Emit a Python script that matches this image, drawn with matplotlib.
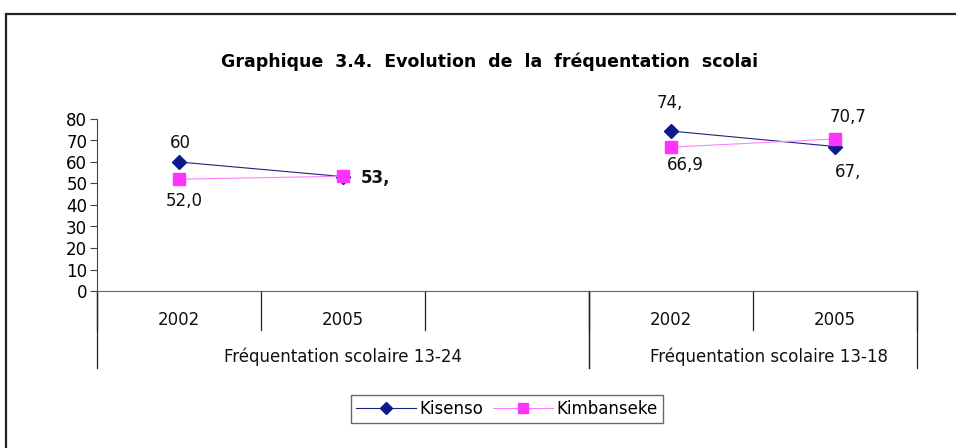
import numpy as np
import matplotlib

matplotlib.use("Agg")
import matplotlib.pyplot as plt
from matplotlib.lines import Line2D
from matplotlib.patches import Rectangle

plt.rcParams["font.family"] = ["DejaVu Sans"]

# data
years = ["2002", "2005", "", "2002", "2005"]
groups = ["Fréquentation scolaire 13-24", "Fréquentation scolaire 13-18"]
group_slots = [(0, 3), (3, 5)]  # slot ranges covered by each group
kisenso = [60.0, 53.2, np.nan, 74.4, 67.2]
kimbanseke = [52.0, 53.4, np.nan, 66.9, 70.7]
kisenso_labels = ["60", "", "", "74,", "67,"]
kimbanseke_labels = ["52,0", "53,", "", "66,9", "70,7"]
title = "Graphique  3.4.  Evolution  de  la  fréquentation  scolai"

# label offsets (points) per slot
kis_off = {0: (1, 14), 3: (-0.5, 20), 4: (9.5, -18)}
kim_off = {0: (4, -16), 1: (13, -1), 3: (10, -12.5), 4: (9.5, 16)}

fig = plt.figure(figsize=(9.56, 4.48), dpi=100)
fig.patches.append(Rectangle((6 / 956, -0.1), 1.2, (448 - 14) / 448 + 0.1,
                             transform=fig.transFigure, fill=False,
                             edgecolor="#222222", linewidth=1.6))

ax = fig.add_axes([97 / 956, 157 / 448, 820 / 956, 172 / 448])
x = np.arange(len(years))

ax.plot(x, kisenso, color="#1a237e", linewidth=0.8, marker="D", markersize=7,
        markerfacecolor="#0d1a8c", markeredgecolor="#0d1a8c", zorder=3)
ax.plot(x, kimbanseke, color="#ff80ff", linewidth=0.8, marker="s", markersize=8,
        markerfacecolor="#ff33ff", markeredgecolor="#ff33ff", zorder=3)

for i, (v, lab) in enumerate(zip(kisenso, kisenso_labels)):
    if lab:
        ax.annotate(lab, (x[i], v), xytext=kis_off[i], textcoords="offset points",
                    ha="center", va="center", fontsize=12, color="#111111")
for i, (v, lab) in enumerate(zip(kimbanseke, kimbanseke_labels)):
    if not lab:
        continue
    if i == 1:
        # two overlapping labels in the reference, so it reads bolder
        ax.annotate(lab, (x[i], v), xytext=kim_off[i], textcoords="offset points",
                    ha="left", va="center", fontsize=12, color="#111111",
                    fontweight="bold")
    else:
        ax.annotate(lab, (x[i], v), xytext=kim_off[i], textcoords="offset points",
                    ha="center", va="center", fontsize=12, color="#111111")

ax.set_xlim(-0.5, len(years) - 0.5)
ax.set_ylim(0, 80)
ax.set_yticks(range(0, 81, 10))
ax.tick_params(axis="y", labelsize=12, length=5, color="#444444", pad=2)
ax.set_xticks([])
for side in ("top", "right"):
    ax.spines[side].set_visible(False)
ax.spines["left"].set_color("#444444")
ax.spines["bottom"].set_color("#666666")

# category axis: inner ticks, year labels, group labels
tr = ax.get_xaxis_transform()
for b in np.arange(len(years) + 1) - 0.5:
    ax.add_line(Line2D([b, b], [0, -0.225], transform=tr, color="#222222",
                       linewidth=0.9, clip_on=False))
for i, yr in enumerate(years):
    ax.text(x[i], -0.17, yr, transform=tr, ha="center", va="center",
            fontsize=12, color="#111111")
for (a, b), g in zip(group_slots, groups):
    for edge in (a - 0.5, b - 0.5):
        ax.add_line(Line2D([edge, edge], [0, -0.445], transform=tr,
                           color="#222222", linewidth=0.9, clip_on=False))
    ax.text((a + b - 1) / 2 + (0.1 if a else 0), -0.385, g, transform=tr,
            ha="center", va="center", fontsize=12, color="#111111")

fig.text(490 / 956, 1 - 62 / 448, title, ha="center", va="center",
         fontsize=12.5, fontweight="bold")

handles = [
    Line2D([], [], color="#1a237e", linewidth=0.8, marker="D", markersize=6,
           markerfacecolor="#0d1a8c", markeredgecolor="#0d1a8c"),
    Line2D([], [], color="#ff80ff", linewidth=0.8, marker="s", markersize=7,
           markerfacecolor="#ff33ff", markeredgecolor="#ff33ff"),
]
leg = fig.legend(handles, ["Kisenso", "Kimbanseke"], loc="center",
                 bbox_to_anchor=(507 / 956, 1 - 409 / 448), ncol=2,
                 fontsize=12, frameon=True, fancybox=False,
                 handlelength=3.6, handletextpad=0.2, columnspacing=0.6,
                 borderpad=0.3)
leg.get_frame().set_edgecolor("#444444")
leg.get_frame().set_linewidth(1.0)

fig.savefig("out.png", dpi=100)
